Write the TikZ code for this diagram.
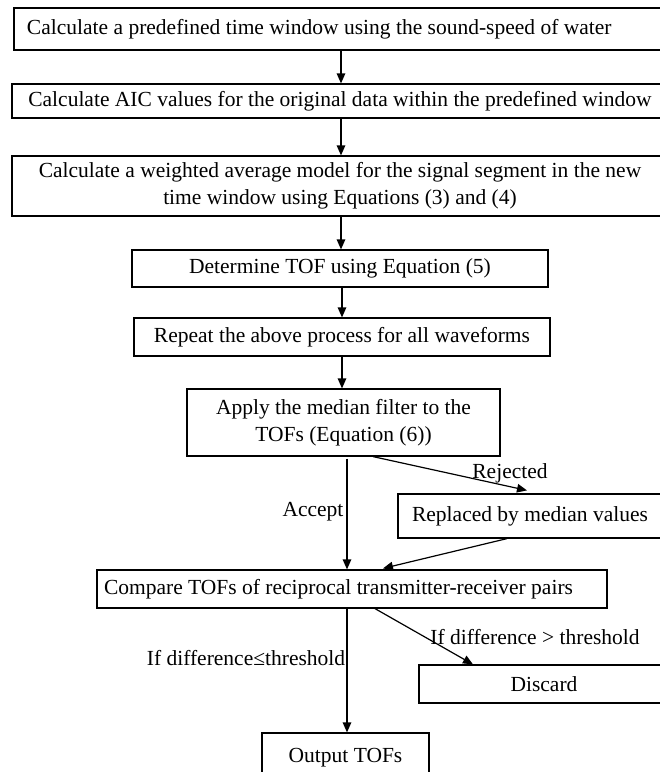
\documentclass[tikz,border=0pt]{standalone}
\usepackage{fontspec}
\setmainfont{Liberation Serif}
\usetikzlibrary{arrows.meta}
\tikzset{
  box/.style={draw, line width=1.2pt, inner sep=0pt, align=center,
    font=\fontsize{21.5}{27}\selectfont},
  lbl/.style={inner sep=0pt, font=\fontsize{21.5}{27}\selectfont},
  arr/.style={line width=1.2pt, -{Triangle[length=10pt,width=8.5pt]}}
}
\begin{document}
\begin{tikzpicture}[x=1pt,y=-1pt]
\useasboundingbox[fill=white] (0,0) rectangle (660,772);
\node[box, text width=632pt, align=flush left, inner xsep=13pt, minimum height=42pt] (b1) at (343,29)
  {Calculate a predefined time window using the sound-speed of water};
\node[box, minimum width=656pt, minimum height=34pt] (b2) at (340,101)
  {Calculate AIC values for the original data within the predefined window};
\node[box, minimum width=656pt, minimum height=60pt] (b3) at (340,186)
  {Calculate a weighted average model for the signal segment in the new\\time window using Equations (3) and (4)};
\node[box, minimum width=416pt, minimum height=37pt] (b4) at (340,268.5)
  {Determine TOF using Equation (5)};
\node[box, minimum width=416pt, minimum height=38pt] (b5) at (342,337)
  {Repeat the above process for all waveforms};
\node[box, minimum width=313pt, minimum height=67pt] (b6) at (343.5,422.5)
  {Apply the median filter to the\\TOFs (Equation (6))};
\node[box, minimum width=264pt, minimum height=44pt] (b7) at (530,516)
  {Replaced by median values};
\node[box, text width=496pt, align=flush left, inner xsep=7pt, minimum height=38pt] (b8) at (352,589)
  {Compare TOFs of reciprocal transmitter-receiver pairs};
\node[box, minimum width=250pt, minimum height=38pt] (b9) at (544,684)
  {Discard};
\node[box, minimum width=167pt, minimum height=50pt] (b10) at (345.5,758)
  {Output TOFs};

\draw[arr] ([xshift=-2pt]b1.south) -- ([xshift=1pt]b2.north);
\draw[arr] ([xshift=1pt]b2.south) -- ([xshift=1pt]b3.north);
\draw[arr] ([xshift=1pt]b3.south) -- ([xshift=1pt]b4.north);
\draw[arr] ([xshift=2pt]b4.south) -- (b5.north);
\draw[arr] (b5.south) -- ([xshift=-1.5pt]b6.north);
\draw[arr] ([xshift=3.5pt,yshift=-2pt]b6.south) -- ([xshift=-5pt]b8.north);
\draw[arr] ([xshift=29.5pt]b6.south) -- ([xshift=-3pt,yshift=3pt]b7.north);
\draw[arr] ([xshift=-23pt]b7.south) -- ([xshift=31pt,yshift=1pt]b8.north);
\draw[arr] ([xshift=23pt]b8.south) -- ([xshift=-71pt]b9.north);
\draw[arr] ([xshift=-5pt]b8.south) -- ([xshift=1.5pt]b10.north);

\node[lbl] (rej) at (510,473) {Rejected};
\node[lbl] (acc) at (313,512) {Accept};
\node[lbl] (gt) at (535,637) {If difference > threshold};
\node[lbl] (le) at (246,658) {If difference≤threshold};
\end{tikzpicture}
\end{document}
